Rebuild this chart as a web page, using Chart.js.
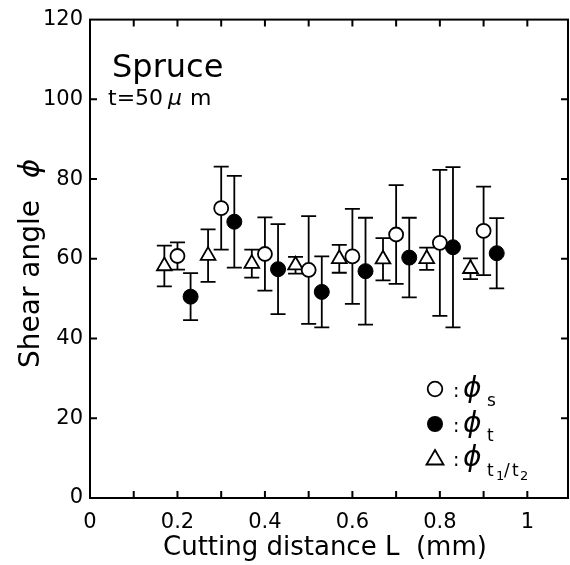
<!DOCTYPE html>
<html>
<head>
<meta charset="utf-8">
<script src="https://cdn.jsdelivr.net/npm/chart.js@4.4.1/dist/chart.umd.min.js"></script>
<style>
  html, body { margin: 0; padding: 0; background: #fff; }
  canvas { display: block; }
</style>
</head>
<body>
<canvas id="shearChart" width="570" height="565"></canvas>
<script>
// phi_s (open circles)
const sX = [0.2, 0.3, 0.4, 0.5, 0.6, 0.7, 0.8, 0.9];
const sVal = [60.7, 72.7, 61.2, 57.2, 60.6, 66.1, 64.0, 67.0];
const sErr = [3.4, 10.4, 9.2, 13.5, 11.9, 12.4, 18.3, 11.1];

// phi_t (filled circles)
const tX = [0.23, 0.33, 0.43, 0.53, 0.63, 0.73, 0.83, 0.93];
const tVal = [50.5, 69.3, 57.4, 51.7, 56.9, 60.3, 62.9, 61.4];
const tErr = [5.9, 11.5, 11.3, 8.9, 13.4, 10.0, 20.1, 8.8];

// phi_t1/t2 (open triangles)
const rX = [0.17, 0.27, 0.37, 0.47, 0.57, 0.67, 0.77, 0.87];
const rVal = [58.2, 60.8, 58.8, 58.4, 60.0, 59.9, 60.0, 57.5];
const rErr = [5.1, 6.6, 3.5, 2.1, 3.5, 5.3, 2.8, 2.6];

const xMinorTicks = [0.1, 0.2, 0.3, 0.4, 0.5, 0.6, 0.7, 0.8, 0.9, 1.0];
const yMinorTicks = [20, 40, 60, 80, 100];

const FONT = "'DejaVu Sans', Arial, sans-serif";

const toPoints = (xs, ys) => xs.map((x, i) => ({ x: x, y: ys[i] }));

// error bars, drawn under the markers
const errorBars = {
  id: 'errorBars',
  beforeDatasetsDraw(chart) {
    const ctx = chart.ctx;
    const xs = chart.scales.x, ys = chart.scales.y;
    const groups = [[sX, sVal, sErr], [tX, tVal, tErr], [rX, rVal, rErr]];
    ctx.save();
    ctx.strokeStyle = '#000';
    ctx.lineWidth = 1.8;
    groups.forEach(([gx, gv, ge]) => {
      gx.forEach((x, i) => {
        const px = xs.getPixelForValue(x);
        const hi = ys.getPixelForValue(gv[i] + ge[i]);
        const lo = ys.getPixelForValue(gv[i] - ge[i]);
        ctx.beginPath();
        ctx.moveTo(px, hi); ctx.lineTo(px, lo);
        ctx.moveTo(px - 7.5, hi); ctx.lineTo(px + 7.5, hi);
        ctx.moveTo(px - 7.5, lo); ctx.lineTo(px + 7.5, lo);
        ctx.stroke();
      });
    });
    ctx.restore();
  }
};

// box frame with inward ticks, titles, notes and legend
const decorations = {
  id: 'decorations',
  afterDraw(chart) {
    const ctx = chart.ctx;
    const a = chart.chartArea;
    const xs = chart.scales.x, ys = chart.scales.y;
    ctx.save();
    ctx.strokeStyle = '#000';
    ctx.lineWidth = 2;
    ctx.strokeRect(a.left, a.top, a.right - a.left, a.bottom - a.top);
    ctx.beginPath();
    xMinorTicks.forEach(v => {
      const px = xs.getPixelForValue(v);
      ctx.moveTo(px, a.bottom); ctx.lineTo(px, a.bottom - 7);
      ctx.moveTo(px, a.top); ctx.lineTo(px, a.top + 7);
    });
    yMinorTicks.forEach(v => {
      const py = ys.getPixelForValue(v);
      ctx.moveTo(a.left, py); ctx.lineTo(a.left + 7, py);
      ctx.moveTo(a.right, py); ctx.lineTo(a.right - 7, py);
    });
    ctx.stroke();

    ctx.fillStyle = '#000';
    ctx.textBaseline = 'alphabetic';
    ctx.textAlign = 'left';

    // x axis title
    ctx.font = '26px ' + FONT;
    ctx.fillText('Cutting distance L  (mm)', 163, 555);

    // y axis title
    ctx.save();
    ctx.translate(39, 368);
    ctx.rotate(-Math.PI / 2);
    ctx.font = '28px ' + FONT;
    ctx.fillText('Shear angle', 0, 0);
    ctx.font = 'italic 29px ' + FONT;
    ctx.fillText('\u03D5', 190, 0);
    ctx.restore();

    // notes
    ctx.font = '32px ' + FONT;
    ctx.fillText('Spruce', 112, 77);
    ctx.font = '22px ' + FONT;
    ctx.fillText('t=50', 108, 105);
    ctx.font = 'italic 22px ' + FONT;
    ctx.fillText('\u03BC', 168, 105);
    ctx.font = '22px ' + FONT;
    ctx.fillText('m', 190, 105);

    // legend
    const lx = 435;
    const rows = [389, 424, 458];
    ctx.lineWidth = 1.8;
    ctx.beginPath();
    ctx.arc(lx, rows[0], 7.3, 0, Math.PI * 2);
    ctx.fillStyle = '#fff'; ctx.fill(); ctx.stroke();
    ctx.beginPath();
    ctx.arc(lx, rows[1], 8, 0, Math.PI * 2);
    ctx.fillStyle = '#000'; ctx.fill();
    ctx.beginPath();
    ctx.moveTo(lx, rows[2] - 8);
    ctx.lineTo(lx + 8.5, rows[2] + 6.5);
    ctx.lineTo(lx - 8.5, rows[2] + 6.5);
    ctx.closePath();
    ctx.stroke();

    ctx.fillStyle = '#000';
    rows.forEach(r => {
      ctx.font = '19px ' + FONT;
      ctx.fillText(':', 453, r + 8);
      ctx.font = 'italic 28px ' + FONT;
      ctx.fillText('\u03D5', 463, r + 8);
    });
    ctx.font = '17px ' + FONT;
    ctx.fillText('s', 487, rows[0] + 17);
    ctx.fillText('t', 487, rows[1] + 17);
    ctx.fillText('t', 487, rows[2] + 18);
    ctx.fillText('/', 504, rows[2] + 18);
    ctx.fillText('t', 512, rows[2] + 18);
    ctx.font = '13px ' + FONT;
    ctx.fillText('1', 496, rows[2] + 22);
    ctx.fillText('2', 520, rows[2] + 22);
    ctx.restore();
  }
};

const ctx = document.getElementById('shearChart').getContext('2d');

new Chart(ctx, {
  type: 'scatter',
  data: {
    datasets: [
      {
        label: 'phi_s',
        data: toPoints(sX, sVal),
        pointStyle: 'circle',
        pointRadius: 7,
        backgroundColor: '#fff',
        borderColor: '#000',
        borderWidth: 1.8
      },
      {
        label: 'phi_t',
        data: toPoints(tX, tVal),
        pointStyle: 'circle',
        pointRadius: 7.5,
        backgroundColor: '#000',
        borderColor: '#000',
        borderWidth: 1
      },
      {
        label: 'phi_t1/t2',
        data: toPoints(rX, rVal),
        pointStyle: 'triangle',
        pointRadius: 8.5,
        backgroundColor: '#fff',
        borderColor: '#000',
        borderWidth: 1.8
      }
    ]
  },
  options: {
    responsive: false,
    animation: false,
    layout: { autoPadding: false, padding: { top: 18, right: 2, left: 0, bottom: 0 } },
    plugins: {
      legend: { display: false },
      tooltip: { enabled: false }
    },
    scales: {
      x: {
        type: 'linear',
        min: 0,
        max: 1.093,
        afterFit: s => { s.height = 67; },
        grid: { display: false, drawTicks: false },
        border: { display: false },
        ticks: {
          stepSize: 0.2,
          includeBounds: false,
          padding: 12,
          maxRotation: 0,
          color: '#000',
          font: { family: FONT, size: 21 },
          callback: v => String(+v.toFixed(1))
        }
      },
      y: {
        min: 0,
        max: 120,
        afterFit: s => { s.width = 90; },
        grid: { display: false, drawTicks: false },
        border: { display: false },
        ticks: {
          stepSize: 20,
          padding: 7,
          color: '#000',
          font: { family: FONT, size: 21 }
        }
      }
    }
  },
  plugins: [errorBars, decorations]
});
</script>
</body>
</html>
